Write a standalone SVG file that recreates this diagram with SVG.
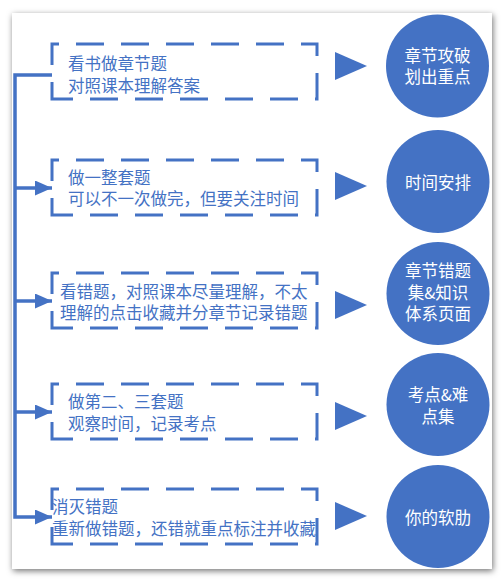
<svg xmlns="http://www.w3.org/2000/svg" width="503" height="582" viewBox="0 0 503 582">
  <defs>
    <filter id="sh" x="-10%" y="-10%" width="120%" height="120%">
      <feDropShadow dx="1" dy="2" stdDeviation="3" flood-color="#000" flood-opacity="0.55"/>
    </filter>
    <marker id="ah" markerWidth="17" markerHeight="15" refX="17" refY="7.5" orient="auto" markerUnits="userSpaceOnUse">
      <path d="M0,0 L17,7.5 L0,15 Z" fill="#4472C4"/>
    </marker>
  </defs>
  <style>
    .box { fill: none; stroke: #4472C4; stroke-width: 3; stroke-dasharray: 28 17; stroke-dashoffset: 11; }
    .tri { fill: #4472C4; }
    .cir { fill: #4472C4; }
    .bt { font-family: "Noto Sans CJK SC", "Microsoft YaHei", sans-serif; font-size: 16.5px; fill: #4472C4; dominant-baseline: central; }
    .ct { font-family: "Noto Sans CJK SC", "Microsoft YaHei", sans-serif; font-size: 16.5px; fill: #ffffff; dominant-baseline: central; text-anchor: middle; }
    .con { fill: none; stroke: #4472C4; stroke-width: 3.5; }
  </style>
  <rect x="0" y="0" width="503" height="582" fill="#ffffff"/>
  <rect x="12" y="13" width="480" height="556" fill="#ffffff" filter="url(#sh)"/>

  <g id="connectors">
    <path class="con" d="M52,75 H15 V517 H52" marker-end="url(#ah)"/>
    <path class="con" d="M15,188 H52" marker-end="url(#ah)"/>
    <path class="con" d="M15,301 H52" marker-end="url(#ah)"/>
    <path class="con" d="M15,412 H52" marker-end="url(#ah)"/>
    <polygon class="tri" points="335,52 367,66 335,80"/>
    <polygon class="tri" points="335,172 367,186 335,200"/>
    <polygon class="tri" points="335,291 367,305 335,319"/>
    <polygon class="tri" points="335,402 367,416 335,430"/>
    <polygon class="tri" points="335,502 367,516 335,530"/>
  </g>

  <g id="box1">
    <path class="box" d="M52,99 V44 H317 V99 Z"/>
    <text class="bt" x="68" y="63">看书做章节题</text>
    <text class="bt" x="68" y="85">对照课本理解答案</text>
  </g>
  <g id="box2">
    <path class="box" d="M52,215 V160 H317 V215 Z"/>
    <text class="bt" x="68" y="177">做一整套题</text>
    <text class="bt" x="68" y="198">可以不一次做完，但要关注时间</text>
  </g>
  <g id="box3">
    <path class="box" d="M52,328 V273 H317 V328 Z"/>
    <text class="bt" x="60" y="291">看错题，对照课本尽量理解，不太</text>
    <text class="bt" x="60" y="312">理解的点击收藏并分章节记录错题</text>
  </g>
  <g id="box4">
    <path class="box" d="M52,439 V384 H317 V439 Z"/>
    <text class="bt" x="68" y="401">做第二、三套题</text>
    <text class="bt" x="68" y="423">观察时间，记录考点</text>
  </g>
  <g id="box5">
    <path class="box" d="M52,544 V489 H317 V544 Z"/>
    <text class="bt" x="52" y="506">消灭错题</text>
    <text class="bt" x="52" y="528">重新做错题，还错就重点标注并收藏</text>
  </g>

  <g id="circle1">
    <circle class="cir" cx="437.5" cy="66" r="51.5"/>
    <text class="ct" x="437.5" y="55">章节攻破</text>
    <text class="ct" x="437.5" y="76">划出重点</text>
  </g>
  <g id="circle2">
    <circle class="cir" cx="438" cy="181.5" r="51.5"/>
    <text class="ct" x="438" y="182">时间安排</text>
  </g>
  <g id="circle3">
    <circle class="cir" cx="438" cy="293.5" r="51.5"/>
    <text class="ct" x="438" y="270">章节错题</text>
    <text class="ct" x="438" y="292">集&amp;知识</text>
    <text class="ct" x="438" y="313">体系页面</text>
  </g>
  <g id="circle4">
    <circle class="cir" cx="438" cy="404.5" r="51.5"/>
    <text class="ct" x="438" y="394">考点&amp;难</text>
    <text class="ct" x="438" y="416">点集</text>
  </g>
  <g id="circle5">
    <circle class="cir" cx="438" cy="516.5" r="51.5"/>
    <text class="ct" x="438" y="517">你的软肋</text>
  </g>
</svg>
